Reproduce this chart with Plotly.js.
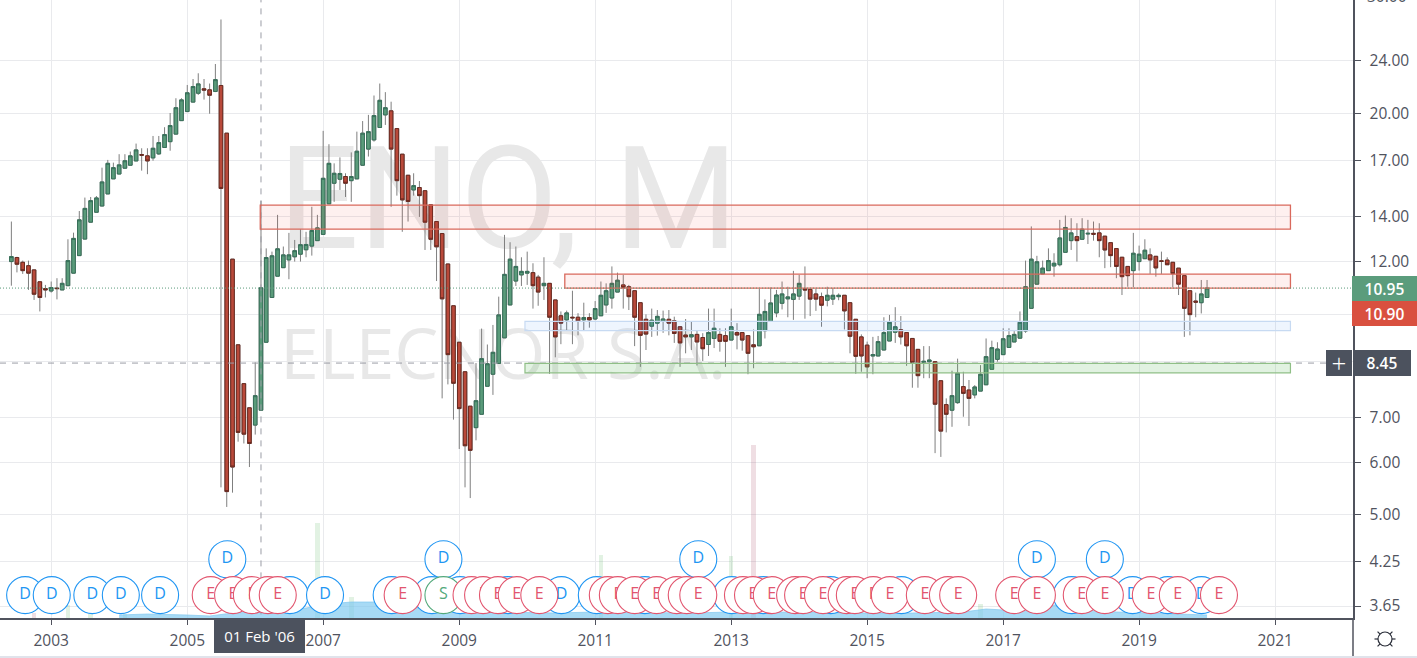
<!DOCTYPE html>
<html>
<head>
<meta charset="utf-8">
<script src="https://cdn.plot.ly/plotly-3.0.1.min.js"></script>
<style>html,body{margin:0;padding:0;background:#e0e3eb;overflow:hidden}#chart{width:1417px;height:656px;background:#fff}</style>
</head>
<body>
<div id="chart"></div>
<script>
var firstYear = 2002, firstMonth = 6;
var opens = [
12.0,12.17,11.97,11.83,11.66,11.19,10.93,
10.84,10.95,10.88,11.04,11.53,12.25,12.97,13.75,14.23,14.54,15.16,15.97,
16.24,16.57,16.74,16.99,17.37,17.29,17.17,17.41,17.8,18.16,18.64,19.53,
20.15,20.82,21.47,21.8,21.72,21.6,22.05,18.7,12.1,9.0,7.87,7.24,
6.82,7.18,9.08,10.6,11.41,11.75,12.07,12.2,12.31,12.5,12.66,12.9,
13.18,14.65,15.73,15.95,16.1,15.87,15.97,16.74,17.7,18.27,19.07,19.92,
20.2,19.0,17.39,16.17,15.37,15.5,15.33,14.6,13.78,13.22,11.9,10.3,
9.08,8.2,7.28,6.76,7.08,7.8,8.13,8.44,9.22,10.33,11.22,11.46,
11.53,11.55,11.37,11.04,11.13,10.51,9.95,9.81,9.9,9.9,9.81,9.89,
9.84,9.95,10.33,10.58,10.8,11.07,11.0,10.85,10.41,9.83,9.6,9.7,
9.76,9.83,9.78,9.58,9.31,9.25,9.33,9.23,9.01,9.2,9.33,9.29,
9.15,9.39,9.39,9.29,9.0,8.97,9.45,9.76,10.05,10.39,10.55,10.53,
10.65,10.92,10.9,10.73,10.63,10.5,10.54,10.63,10.68,10.41,9.83,9.25,
8.99,8.66,8.66,8.84,9.12,9.4,9.48,9.39,9.2,8.86,8.47,8.49,
8.49,7.95,7.32,7.18,7.37,7.79,7.7,7.57,7.67,7.84,8.27,8.56,
8.7,8.92,9.09,9.21,9.44,10.21,11.1,11.5,11.63,11.82,11.87,12.39,
12.9,13.08,12.96,13.2,13.23,13.25,13.1,12.81,12.55,12.18,11.8,11.63,
12.0,12.12,12.28,12.22,12.03,12.06,11.97,11.73,11.43,10.85,10.47,10.41,
10.6];
var highs = [
13.78,12.2,12.04,12.04,11.66,11.19,11.07,
11.2,11.33,11.33,12.96,13.26,14.29,14.97,15.0,15.05,16.6,17.05,16.89,
17.39,17.39,17.55,18.04,17.75,17.75,18.52,18.52,19.09,20.05,21.1,21.1,
22.09,22.55,23.0,22.55,22.2,23.75,27.7,18.7,12.1,9.0,7.87,7.24,
8.47,14.8,12.56,12.42,14.1,12.64,13.25,12.93,13.42,13.3,14.5,14.1,
18.85,18.0,16.85,17.2,16.28,17.5,18.8,19.5,19.92,21.3,22.2,21.55,
20.85,19.0,17.39,16.17,16.28,15.85,15.33,14.6,13.78,13.22,11.9,10.3,
9.08,8.2,7.28,8.45,9.52,9.01,9.64,10.63,13.16,12.83,12.64,12.18,
12.42,11.93,11.46,12.18,11.13,10.51,10.1,10.13,10.85,10.04,10.41,10.04,
10.47,11.2,11.13,11.8,11.55,11.46,11.07,10.85,10.41,10.0,10.2,10.15,
10.13,10.15,9.92,9.58,9.84,9.75,9.47,9.37,10.2,10.2,9.53,9.53,
10.2,9.7,9.39,9.29,9.49,10.92,10.53,10.97,10.88,11.2,11.0,11.62,
11.46,11.8,10.9,10.92,10.78,11.0,10.95,10.75,10.68,10.41,9.83,9.33,
9.1,9.25,9.28,9.9,9.98,10.25,9.94,9.39,9.2,8.86,8.96,8.96,
8.5,7.95,7.48,8.23,8.58,8.2,7.97,7.83,8.39,9.2,9.13,9.08,
9.53,9.53,9.47,10.1,12.04,13.55,12.24,12.04,12.56,12.35,13.86,14.07,
13.94,13.7,13.94,13.86,13.78,13.7,13.1,12.81,12.55,12.18,11.8,13.25,
12.68,12.96,12.56,12.22,12.42,12.18,11.97,11.73,11.43,10.85,10.78,11.26,
11.26];
var lows = [
11.04,11.56,11.5,10.88,10.51,10.1,10.6,
10.78,10.53,10.88,11.04,11.53,12.25,12.97,13.75,14.23,14.54,15.16,15.97,
16.24,16.57,16.74,16.99,16.43,16.23,17.0,17.35,17.8,17.6,18.64,19.53,
20.15,20.82,21.34,21.0,20.0,21.55,5.5,5.14,5.4,6.44,6.4,5.9,
6.6,7.18,9.08,10.6,11.41,11.75,11.29,12.0,12.0,12.18,12.25,12.9,
13.18,14.65,14.75,15.37,15.0,14.75,15.97,16.74,17.25,18.16,19.07,19.24,
14.5,15.07,13.3,13.78,15.07,14.0,12.49,12.49,11.22,7.48,7.85,6.95,
6.28,5.5,5.3,6.47,7.08,7.8,7.57,8.44,9.22,10.33,11.03,11.03,
11.07,10.2,10.3,10.51,8.14,8.62,9.02,9.47,9.02,9.3,9.45,9.55,
9.8,9.95,10.05,10.2,10.8,10.2,10.15,8.96,8.34,8.84,9.25,9.29,
9.38,9.3,9.06,8.34,8.74,8.84,8.38,8.51,8.66,8.9,8.79,8.34,
9.15,8.86,8.82,8.13,8.3,8.97,9.2,9.76,9.9,10.17,9.9,9.81,
10.51,9.85,9.94,10.12,9.58,10.28,10.33,10.5,9.49,8.74,8.14,8.2,
8.02,8.13,8.66,8.84,9.12,9.06,9.01,8.37,7.76,7.76,8.02,8.02,
6.19,6.11,6.65,6.78,7.34,7.02,6.8,7.48,7.67,7.84,8.27,8.49,
8.7,8.92,9.09,9.21,9.38,10.21,11.1,11.5,11.63,11.39,11.8,12.39,
12.49,12.0,12.96,12.75,12.9,12.18,11.73,11.77,11.33,10.69,11.0,10.98,
11.63,12.12,11.5,11.39,11.5,11.87,10.98,10.69,9.25,9.3,9.9,10.03,
10.6];
var closes = [
12.21,11.89,11.63,11.53,10.72,10.6,10.88,
10.97,10.93,11.13,12.04,13.0,13.86,14.42,14.81,14.95,15.8,16.85,16.6,
16.76,17.0,17.29,17.65,17.33,16.99,17.75,18.1,18.61,19.2,20.42,20.98,
21.5,21.97,22.17,21.7,21.32,22.5,15.45,5.42,5.9,6.65,6.61,6.4,
7.55,10.96,12.17,12.24,12.54,12.28,12.28,12.46,12.72,12.73,13.36,13.48,
16.0,16.85,16.28,16.27,15.73,16.1,17.57,18.7,18.8,19.87,20.95,20.42,
17.7,15.87,14.85,14.77,15.6,15.07,13.75,12.96,12.63,10.55,8.7,7.88,
7.22,6.35,6.25,7.42,8.58,8.43,8.77,9.98,11.48,12.1,11.8,11.6,
11.6,11.04,10.8,11.13,9.9,9.25,9.7,10.05,9.88,9.77,9.89,9.81,
10.2,10.68,10.85,11.13,11.25,10.97,10.63,9.9,9.3,9.34,9.8,9.93,
9.84,9.7,9.36,9.06,9.25,9.32,9.09,8.88,9.39,9.53,9.11,9.11,
9.58,9.31,9.15,8.74,8.94,10.0,10.1,10.4,10.69,10.73,10.62,10.73,
11.13,10.88,10.54,10.54,10.32,10.68,10.68,10.68,10.12,9.27,8.65,8.66,
8.34,8.7,9.1,9.39,9.73,9.58,9.25,8.97,8.47,8.09,8.5,8.54,
7.33,6.68,7.08,7.55,8.16,7.61,7.48,7.78,8.13,8.64,8.91,8.87,
9.19,9.29,9.33,9.73,11.0,12.1,11.99,11.73,12.04,11.93,13.02,13.5,
13.25,12.9,13.42,13.23,13.19,12.9,12.49,12.25,11.8,11.39,11.43,12.35,
12.31,12.48,12.07,11.74,12.01,11.87,11.51,11.1,10.21,9.99,10.43,10.73,
10.95];

var volumeMonths = ["2002-10","2003-04","2003-08","2004-02","2006-12","2007-06","2011-02","2013-01","2013-05","2016-09"];
var volumeValues = [0.05,0.13,0.04,0.04,0.95,0.21,0.63,0.62,1.73,0.14];
var avgVolumeDates = ["2004-01","2004-06","2005-01","2005-05","2005-09","2006-02","2006-06","2006-10","2007-01","2007-04","2007-06","2007-10","2008-03","2008-08","2009-01","2009-08","2010-06","2011-01","2012-06","2013-01","2013-08","2014-06","2015-01","2015-09","2016-06","2016-10","2017-01","2017-06","2017-10","2018-03","2018-09","2019-03","2019-10","2020-01"];
var avgVolumeValues = [0.03,0.04,0.03,0.02,0.05,0.06,0.07,0.10,0.13,0.15,0.16,0.16,0.14,0.12,0.08,0.06,0.05,0.06,0.05,0.06,0.06,0.05,0.05,0.05,0.06,0.09,0.08,0.11,0.13,0.10,0.06,0.05,0.04,0.03];

var dividendDates = ["2002-08-14","2003-01-04","2003-08-10","2004-01-10","2004-08-08","2006-07-06","2007-01-11","2008-01-04","2008-08-07","2009-01-06","2009-09-20","2010-07-04","2011-01-10","2011-09-25","2013-01-04","2013-06-22","2014-06-20","2015-07-04","2018-01-04","2018-11-27","2019-06-04","2019-12-02"];
var raisedDividendDates = ["2005-08-04","2008-10-08","2012-07-08","2017-07-01","2018-07-01"];
var splitDates = ["2008-10-08"];
var earningsDates = ["2005-05-07","2005-09-04","2005-12-14","2006-03-10","2006-05-02","2008-03-03","2009-03-08","2009-05-09","2009-07-28","2009-11-06","2010-03-07","2011-03-10","2011-05-03","2011-08-02","2011-11-27","2012-03-14","2012-05-07","2012-07-08","2013-03-05","2013-04-28","2013-08-07","2013-12-10","2014-01-22","2014-05-09","2014-09-13","2014-10-27","2015-02-03","2015-05-03","2015-11-07","2016-03-10","2016-05-04","2017-03-01","2017-07-01","2018-02-27","2018-07-01","2019-03-05","2019-07-28","2020-03-05"];

var yTickValues = [24,20,17,14,12,10,8.5,7,6,5,4.25,3.65];
var yTickLabels = ["24.00","20.00","17.00","14.00","12.00","","","7.00","6.00","5.00","4.25","3.65"];

var redZones = [[14.58,13.42,"2006-01-28"],[11.49,10.95,"2010-07-22"]];
var blueZone = [9.76,9.45,"2009-12-20"];
var greenZone = [8.44,8.17,"2009-12-20"];
var zoneEnd = "2021-03-24";
var lastPrice = 10.95, otherPrice = 10.90, crossPrice = 8.45, crossDate = "2006-02-01";

// ---- styles and geometry
var W = 1353, H = 618;
var xRange = ["2002-04-01","2022-02-23"];
var yRange = [0.5443,1.4717];
var axisColor = "#50535e", gridColor = "#e9eaed", wick = "#7f7f7f";
var upFill = "#5a9b7a", upEdge = "#37705a", downFill = "#b9493a", downEdge = "#6a2a20";
var uiFont = "'Open Sans', sans-serif";
var row1 = 3.79, row2 = 4.29;

var dates = [];
for (var i = 0; i < opens.length; i++) {
  var m0 = firstMonth - 1 + i;
  var y = firstYear + Math.floor(m0 / 12), m = m0 % 12 + 1;
  dates.push(y + "-" + (m < 10 ? "0" : "") + m + "-01");
}
var bodyHigh = opens.map(function (o, i) { return Math.max(o, closes[i]); });
var bodyLow = opens.map(function (o, i) { return Math.min(o, closes[i]); });

var traces = [];
// watermark on the base subplot, beneath everything
traces.push({type:"scatter",mode:"text",x:["2009-09-20"],y:[14.24],text:["ENO, M"],textposition:"middle center",
  textfont:{family:"Roboto, sans-serif",size:142,color:"#e8e8e8"},hoverinfo:"skip",showlegend:false,xaxis:"x",yaxis:"y",cliponaxis:false});
traces.push({type:"scatter",mode:"text",x:["2009-08-25"],y:[8.5],text:["ELECNOR S.A."],textposition:"middle center",
  textfont:{family:uiFont,size:70,color:"#e8e8e8"},hoverinfo:"skip",showlegend:false,xaxis:"x",yaxis:"y",cliponaxis:false});

// volume
var volColors = volumeMonths.map(function (vm) {
  var k = dates.indexOf(vm + "-01");
  return closes[k] >= opens[k] ? "rgba(76,175,80,0.16)" : "rgba(160,60,90,0.17)";
});
traces.push({type:"bar",x:volumeMonths.map(function(d){return d+"-01";}),y:volumeValues,marker:{color:volColors,line:{width:0}},
  width:1000*60*60*24*24,hoverinfo:"skip",showlegend:false,xaxis:"x2",yaxis:"y2"});
traces.push({type:"scatter",mode:"lines",x:avgVolumeDates.map(function(d){return d+"-01";}),y:avgVolumeValues,
  fill:"tozeroy",fillcolor:"rgba(125,200,240,0.68)",line:{color:"rgba(130,200,240,0.7)",width:1},hoverinfo:"skip",showlegend:false,xaxis:"x2",yaxis:"y2"});

// candles: wicks, then bodies
traces.push({type:"candlestick",x:dates,open:opens,high:highs,low:lows,close:closes,
  increasing:{line:{color:wick,width:1},fillcolor:wick},decreasing:{line:{color:wick,width:1},fillcolor:wick},
  whiskerwidth:0,hoverinfo:"skip",showlegend:false,xaxis:"x3",yaxis:"y3"});
traces.push({type:"candlestick",x:dates,open:opens,high:bodyHigh,low:bodyLow,close:closes,
  increasing:{line:{color:upEdge,width:1},fillcolor:upFill},decreasing:{line:{color:downEdge,width:1},fillcolor:downFill},
  whiskerwidth:0,hoverinfo:"skip",showlegend:false,xaxis:"x3",yaxis:"y3"});

// crosshair
traces.push({type:"scatter",mode:"lines",x:[crossDate,crossDate],y:[30,3.4],line:{color:"#9a9da5",width:1,dash:"6px,6px"},hoverinfo:"skip",showlegend:false,xaxis:"x3",yaxis:"y3"});
traces.push({type:"scatter",mode:"lines",x:xRange,y:[crossPrice,crossPrice],line:{color:"#9a9da5",width:1,dash:"6px,6px"},hoverinfo:"skip",showlegend:false,xaxis:"x3",yaxis:"y3"});

// event bubbles, one trace each so later bubbles cover earlier ones and their letters
function bubble(date, row, letter, edge, ink) {
  traces.push({type:"scatter",mode:"markers+text",x:[date],y:[row],text:[letter],textposition:"middle center",
    marker:{size:37,color:"#ffffff",line:{color:edge,width:1.1}},textfont:{family:uiFont,size:16,color:ink},
    hoverinfo:"skip",showlegend:false,xaxis:"x3",yaxis:"y3",cliponaxis:false});
}
var blue = "#2196f3", red = "#e2566f", green = "#53a97b";
dividendDates.forEach(function (d) { bubble(d, row1, "D", blue, blue); });
raisedDividendDates.forEach(function (d) { bubble(d, row2, "D", blue, blue); });
splitDates.forEach(function (d) { bubble(d, row1, "S", green, green); });
earningsDates.forEach(function (d) { bubble(d, row1, "E", red, red); });

// zones and price line
function zone(z, edge, fill, w) {
  return {type:"rect",xref:"x",yref:"y",x0:z[2],x1:zoneEnd,y0:z[0],y1:z[1],line:{color:edge,width:w},fillcolor:fill,layer:"above"};
}
var shapes = [
  zone(redZones[0],"#d9695c","rgba(244,67,54,0.08)",1.3),
  zone(redZones[1],"#d9695c","rgba(244,67,54,0.08)",1.3),
  zone(blueZone,"#c7daf2","rgba(33,130,243,0.08)",1.2),
  zone(greenZone,"#8fbf86","rgba(76,175,80,0.17)",1.2),
  {type:"line",xref:"paper",yref:"y",x0:0,x1:1,y0:lastPrice,y1:lastPrice,line:{color:"#5a9b7a",width:1,dash:"1px,2px"},layer:"above"},
  {type:"line",xref:"paper",yref:"paper",x0:1,x1:1,y0:0,y1:-38/H,line:{color:axisColor,width:1.5},layer:"above"}
];

function px(v){return v/W;}
function py(v){return 1-v/H;}

// settings icon: a small sun in the corner below the price scale
var sunX = 1385, sunY = 639, sunInk = "#2a2e39";
shapes.push({type:"circle",xref:"paper",yref:"paper",x0:px(sunX-7),x1:px(sunX+7),y0:py(sunY+7),y1:py(sunY-7),line:{color:sunInk,width:1.2},fillcolor:"rgba(0,0,0,0)",layer:"above"});
[45,135,225,315,0,180].forEach(function (deg) {
  var a = deg*Math.PI/180, c = Math.cos(a), s = Math.sin(a);
  shapes.push({type:"line",xref:"paper",yref:"paper",x0:px(sunX+7*c),x1:px(sunX+10.5*c),y0:py(sunY+7*s),y1:py(sunY+10.5*s),line:{color:sunInk,width:1.2},layer:"above"});
});

function box(x0,y0,w,h,txt,bg,size,weight){
  return {xref:"paper",yref:"paper",x:px(x0),y:py(y0),xanchor:"left",yanchor:"top",width:w,height:h,borderwidth:0,borderpad:0,
    showarrow:false,bgcolor:bg,align:"center",valign:"middle",text:txt,font:{family:uiFont,size:size||15.5,color:"#fff",weight:weight||600}};
}
var annotations = [
  box(1352,276,65,25,lastPrice.toFixed(2),"#5b9c7c"),
  box(1352,301,65,25,otherPrice.toFixed(2),"#d9503f"),
  box(1353,350,58,26,crossPrice.toFixed(2),"#4c525e"),
  box(1326,350,26,26,"+","#4c525e",26,300),
  box(214,618,91,35,"01 Feb '06","#4c525e",15,400),
  {xref:"paper",yref:"paper",x:px(1366),y:1,yshift:3.6,xanchor:"left",yanchor:"middle",showarrow:false,text:"30.00",font:{family:uiFont,size:15.5,color:axisColor},borderpad:0}
];

var hiddenX = {type:"date",range:xRange,visible:false,overlaying:"x"};
var layout = {
  width:1417,height:656,margin:{l:0,r:64,t:0,b:38,pad:0},
  paper_bgcolor:"#ffffff",plot_bgcolor:"#ffffff",showlegend:false,hovermode:false,
  boxmode:"overlay",boxgap:0.02,bargap:0,barmode:"overlay",dragmode:false,
  xaxis:{type:"date",range:xRange,tick0:"2003-01-01",dtick:"M24",tickformat:"%Y",showgrid:true,gridcolor:gridColor,gridwidth:1,zeroline:false,
    showline:true,linecolor:axisColor,linewidth:2,ticks:"outside",ticklen:5,tickcolor:axisColor,tickwidth:1,
    tickfont:{family:uiFont,size:15.5,color:axisColor},ticklabelstandoff:2,rangeslider:{visible:false},fixedrange:true},
  yaxis:{type:"log",range:yRange,side:"right",tickmode:"array",tickvals:yTickValues,ticktext:yTickLabels,showgrid:true,gridcolor:gridColor,gridwidth:1,zeroline:false,
    showline:true,linecolor:axisColor,linewidth:1.5,ticks:"outside",ticklen:6,tickcolor:axisColor,tickwidth:1,
    tickfont:{family:uiFont,size:15.5,color:axisColor},ticklabelstandoff:6,fixedrange:true},
  xaxis2:Object.assign({},hiddenX),
  xaxis3:Object.assign({},hiddenX,{rangeslider:{visible:false}}),
  yaxis2:{type:"linear",range:[0,6.18],visible:false,overlaying:"y",anchor:"x2",side:"right"},
  yaxis3:{type:"log",range:yRange,visible:false,overlaying:"y",anchor:"x3",side:"right"},
  shapes:shapes,annotations:annotations
};
Plotly.newPlot("chart",traces,layout,{displayModeBar:false,staticPlot:true,responsive:false});
</script>
</body>
</html>
